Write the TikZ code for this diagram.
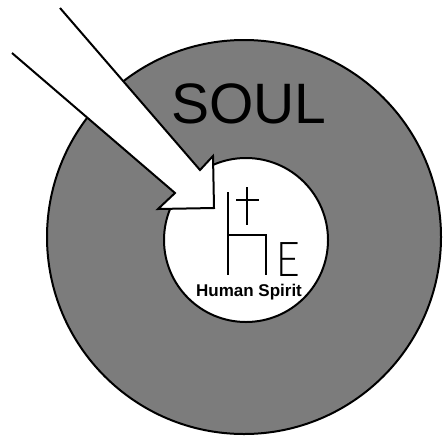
\documentclass[tikz,border=0pt]{standalone}
\usepackage{fontspec}
\setmainfont{Liberation Sans}
\newfontfamily\thinfont{Lato Light}
\definecolor{soulgrey}{RGB}{124,124,124}
\begin{document}
\begin{tikzpicture}[x=1pt,y=-1pt,
  ring/.style={circle,draw=black,line width=2pt,inner sep=0pt},
  hstroke/.style={line width=1.4pt,line cap=butt},
  arrowline/.style={line width=2pt,line join=miter}]
\useasboundingbox (0,0) rectangle (443,439);
% soul ring and spirit
\node[ring,fill=soulgrey,minimum size=394pt] (soul) at (244,237) {};
\node[ring,fill=white,minimum size=164pt] (spirit) at (246,240) {};
\node[anchor=base,inner sep=0pt] (soullabel) at (249,123) {\fontsize{57}{57}\selectfont SOUL};
% arrow
\coordinate (tailA) at (60,8);
\coordinate (shaftA) at (200,170);
\coordinate (barbA) at (213,156);
\coordinate (tip) at (214,208);
\coordinate (barbB) at (158,209);
\coordinate (shaftB) at (175,193);
\coordinate (tailB) at (12,53);
\path[fill=white] (tailA) -- (shaftA) -- (barbA) -- (tip) -- (barbB) -- (shaftB) -- (tailB) -- cycle;
\draw[arrowline] (tailA) -- (shaftA) -- (barbA) -- (tip) -- (barbB) -- (shaftB) -- (tailB);
% H + cross symbol
\coordinate (hl1) at (228,192);
\coordinate (hl2) at (228,275);
\coordinate (hm) at (228,235);
\coordinate (hr1) at (266,235);
\coordinate (hr2) at (266,275);
\coordinate (cv1) at (247,187);
\coordinate (cv2) at (247,225);
\coordinate (ch1) at (236,200);
\coordinate (ch2) at (259,200);
\draw[hstroke] (hl1) -- (hl2);
\draw[hstroke] (hm) -- (hr1) -- (hr2);
\draw[hstroke] (cv1) -- (cv2);
\draw[hstroke] (ch1) -- (ch2);
\node[anchor=base west,inner sep=0pt,xscale=0.85] (eletter) at (276,276) {\thinfont\fontsize{48}{48}\selectfont E};
\node[anchor=base,inner sep=0pt] (spiritlabel) at (249,296) {\bfseries\fontsize{17}{17}\selectfont Human Spirit};
\end{tikzpicture}
\end{document}
